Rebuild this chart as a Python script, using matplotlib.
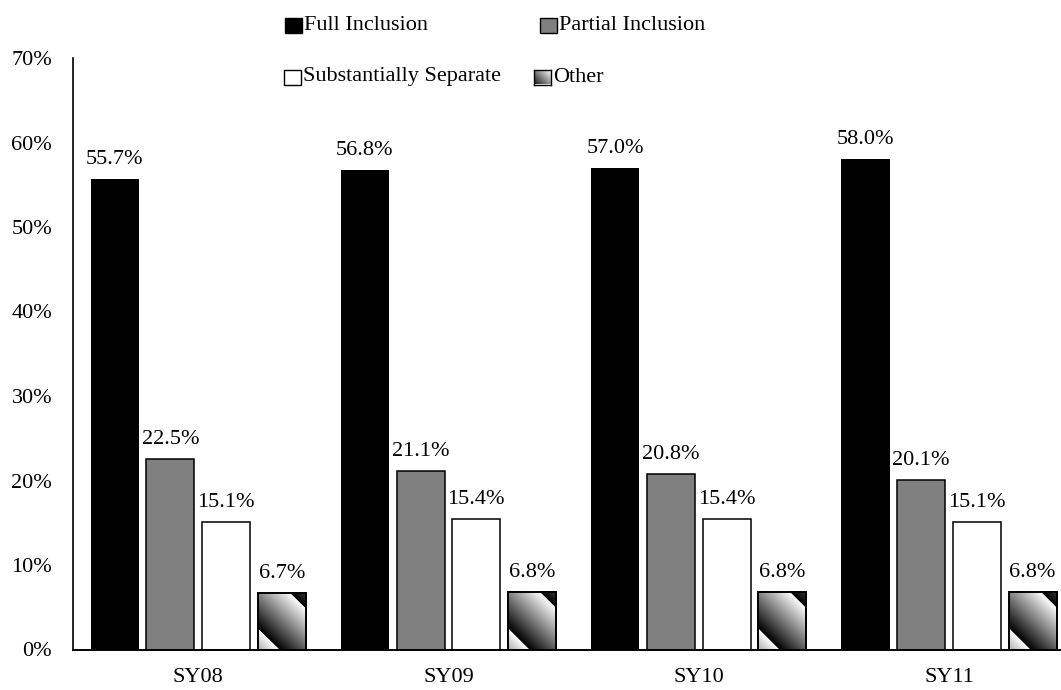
import numpy as np
import matplotlib
matplotlib.use("Agg")
import matplotlib.pyplot as plt
from matplotlib.patches import Rectangle

plt.rcParams['font.family'] = ['Liberation Serif', 'DejaVu Serif']

# ---- data ----
years = ["SY08", "SY09", "SY10", "SY11"]
series_names = ["Full Inclusion", "Partial Inclusion", "Substantially Separate", "Other"]
full_inclusion = [55.7, 56.8, 57.0, 58.0]
partial_inclusion = [22.5, 21.1, 20.8, 20.1]
substantially_separate = [15.1, 15.4, 15.4, 15.1]
other = [6.7, 6.8, 6.8, 6.8]
y_ticks = [0, 10, 20, 30, 40, 50, 60, 70]

series_values = [full_inclusion, partial_inclusion, substantially_separate, other]
face_colors = ["#000000", "#808080", "#ffffff", None]
edge_colors = ["#000000", "#000000", "#000000", "#000000"]
edge_widths = [0.0, 1.1, 1.1, 1.4]

FS = 16
W, H = 1061, 690
DPI = 100
fig = plt.figure(figsize=(W / DPI, H / DPI), dpi=DPI)

left_px, bottom_px = 73.0, 40.5
cat_px = 250.3
top_px = 58.0
ax = fig.add_axes([left_px / W, bottom_px / H, 4 * cat_px / W, (H - top_px - bottom_px) / H])
ax.set_xlim(-0.5, 3.5)
ax.set_ylim(0, 70)

bar_w = 0.192
step = 0.2225
offsets = [(-1.5 + k) * step for k in range(4)]
x = np.arange(len(years))


def gradient_array(w_px, h_px, shift=20.0, period=67.0):
    w_px = max(int(round(w_px)), 2)
    h_px = max(int(round(h_px)), 2)
    xs = np.arange(w_px)[None, :]
    yup = (h_px - 1 - np.arange(h_px))[:, None]
    s = xs + yup
    return ((s - shift) % period) / period


for k, (vals, fc, ec, lw) in enumerate(zip(series_values, face_colors, edge_colors, edge_widths)):
    xpos = x + offsets[k]
    if fc is not None:
        bars = ax.bar(xpos, vals, width=bar_w, color=fc, edgecolor=ec,
                      linewidth=lw, zorder=2)
    else:
        bars = ax.bar(xpos, vals, width=bar_w, facecolor="none", edgecolor=ec,
                      linewidth=lw, zorder=3)
        fig.canvas.draw()
        for b in bars:
            x0, y0 = b.get_x(), b.get_y()
            bw, bh = b.get_width(), b.get_height()
            p0 = ax.transData.transform((x0, y0))
            p1 = ax.transData.transform((x0 + bw, y0 + bh))
            arr = gradient_array(p1[0] - p0[0], p1[1] - p0[1])
            ax.imshow(arr, cmap="gray", vmin=0, vmax=1, origin="upper",
                      extent=[x0, x0 + bw, y0, y0 + bh], aspect="auto",
                      interpolation="bilinear", zorder=2)
    for xi, v in zip(xpos, vals):
        ax.annotate(f"{v:.1f}%", (xi, v), xytext=(0, 10.8), textcoords="offset points",
                    ha="center", va="baseline", fontsize=FS)

ax.set_aspect("auto")
ax.set_xlim(-0.5, 3.5)
ax.set_ylim(0, 70)

ax.set_xticks(x)
ax.set_xticklabels(years)
ax.set_yticks(y_ticks)
ax.set_yticklabels([f"{t}%" for t in y_ticks])
ax.tick_params(axis="both", length=0, labelsize=FS)
ax.tick_params(axis="y", pad=15)
ax.tick_params(axis="x", pad=13.5)
for s in ["top", "right"]:
    ax.spines[s].set_visible(False)
ax.spines["left"].set_linewidth(1.2)
ax.spines["bottom"].set_linewidth(1.4)

# ---- legend (manual, Excel-like layout) ----
legend_items = [
    (0, 285, 25.5),
    (1, 540, 25.5),
    (2, 284, 77.0),
    (3, 534, 77.0),
]
mw, mh = 17, 15
for idx, mx, my in legend_items:
    fx = mx / W
    fy = (H - my - mh / 2) / H
    if face_colors[idx] is not None:
        rect = Rectangle((fx, fy), mw / W, mh / H, transform=fig.transFigure,
                         facecolor=face_colors[idx], edgecolor="black",
                         linewidth=1.0, figure=fig)
        fig.patches.append(rect)
    else:
        lax = fig.add_axes([fx, fy, mw / W, mh / H])
        lax.imshow(gradient_array(mw, mh, shift=-4, period=34), cmap="gray",
                   vmin=0, vmax=1, aspect="auto", interpolation="bilinear")
        lax.set_xticks([])
        lax.set_yticks([])
        for sp in lax.spines.values():
            sp.set_linewidth(1.0)
    fig.text((mx + mw + 2) / W, (H - my) / H, series_names[idx], fontsize=FS,
             ha="left", va="center")

fig.savefig("out.png", dpi=DPI)
